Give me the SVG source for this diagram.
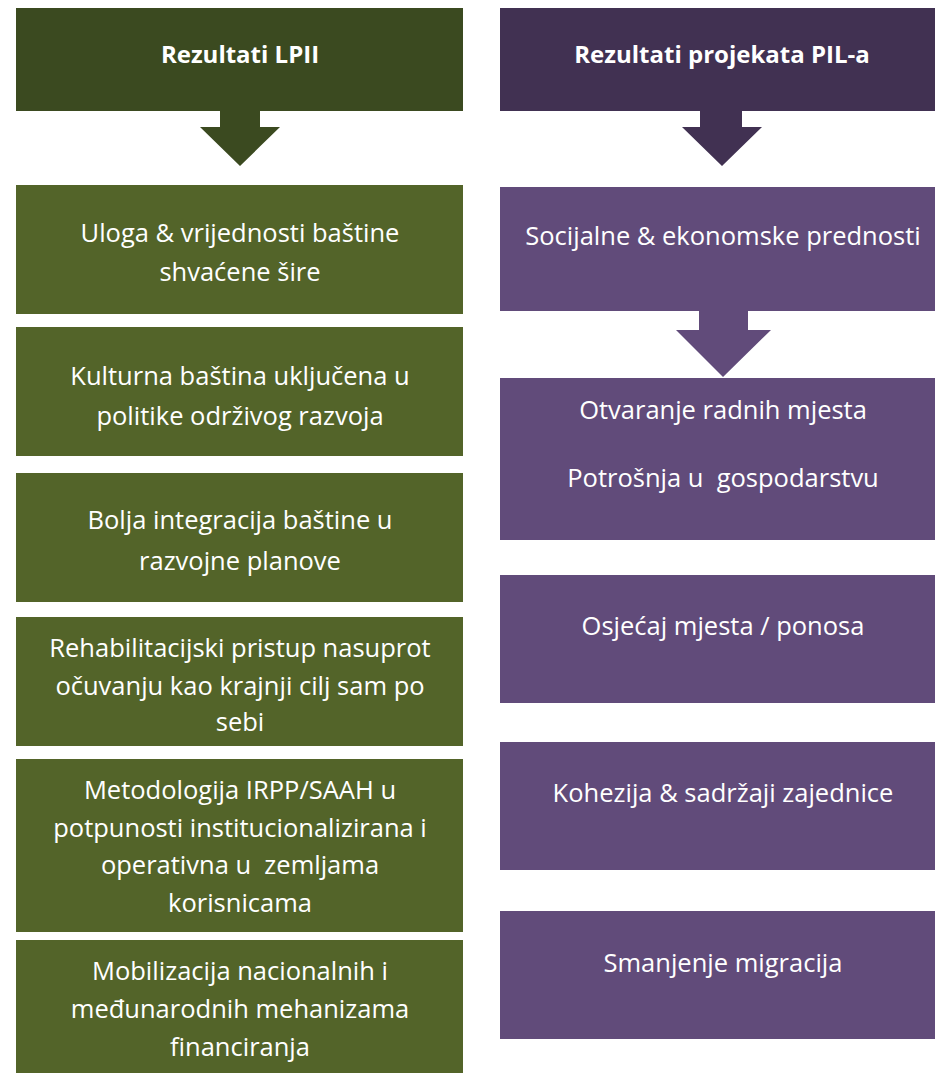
<svg xmlns="http://www.w3.org/2000/svg" width="935" height="1074" viewBox="0 0 935 1074">
<style>
.g{fill:#536429}
.gh{fill:#3b4a20}
.p{fill:#614b7a}
.ph{fill:#413152}
text{font-family:"Open Sans","Liberation Sans",sans-serif;fill:#ffffff;text-anchor:middle;font-size:25.5px}
.h{font-weight:bold;font-size:24px}
</style>
<rect width="935" height="1074" fill="#ffffff"/>
<g id="hdr-left"><rect class="gh" x="16" y="8" width="447" height="103"/><text class="h" x="240" y="63">Rezultati LPII</text></g>
<g id="hdr-right"><rect class="ph" x="500" y="8" width="436" height="103"/><text class="h" x="722" y="63">Rezultati projekata PIL-a</text></g>
<g id="connectors">
<polygon class="gh" points="220,111 260,111 260,127 280,127 240,166 200,127 220,127"/>
<polygon class="ph" points="700,111 742,111 742,127 762,127 722,166 682,127 700,127"/>
<polygon class="p" points="699,311 748,311 748,330 771,330 723,377 676,330 699,330"/>
</g>
<g id="l1"><rect class="g" x="16" y="185" width="447" height="129"/><text x="240" y="242">Uloga &amp; vrijednosti baštine</text><text x="240" y="281">shvaćene šire</text></g>
<g id="l2"><rect class="g" x="16" y="327" width="447" height="129"/><text x="240" y="385">Kulturna baština uključena u</text><text x="240" y="425">politike održivog razvoja</text></g>
<g id="l3"><rect class="g" x="16" y="473" width="447" height="129"/><text x="240" y="529">Bolja integracija baštine u</text><text x="240" y="570">razvojne planove</text></g>
<g id="l4"><rect class="g" x="16" y="617" width="447" height="129"/><text x="240" y="657">Rehabilitacijski pristup nasuprot</text><text x="240" y="695">očuvanju kao krajnji cilj sam po</text><text x="240" y="731">sebi</text></g>
<g id="l5"><rect class="g" x="16" y="759" width="447" height="173"/><text x="240" y="799">Metodologija IRPP/SAAH u</text><text x="240" y="837">potpunosti institucionalizirana i</text><text x="240" y="874" xml:space="preserve">operativna u  zemljama</text><text x="240" y="912">korisnicama</text></g>
<g id="l6"><rect class="g" x="16" y="940" width="447" height="133"/><text x="240" y="980">Mobilizacija nacionalnih i</text><text x="240" y="1018">međunarodnih mehanizama</text><text x="240" y="1056">financiranja</text></g>
<g id="r1"><rect class="p" x="500" y="187" width="436" height="124"/><text x="723" y="245">Socijalne &amp; ekonomske prednosti</text></g>
<g id="r2"><rect class="p" x="500" y="378" width="436" height="162"/><text x="723" y="419">Otvaranje radnih mjesta</text><text x="723" y="487" xml:space="preserve">Potrošnja u  gospodarstvu</text></g>
<g id="r3"><rect class="p" x="500" y="575" width="436" height="128"/><text x="723" y="635">Osjećaj mjesta / ponosa</text></g>
<g id="r4"><rect class="p" x="500" y="742" width="436" height="128"/><text x="723" y="802">Kohezija &amp; sadržaji zajednice</text></g>
<g id="r5"><rect class="p" x="500" y="911" width="436" height="128"/><text x="723" y="972">Smanjenje migracija</text></g>
</svg>
